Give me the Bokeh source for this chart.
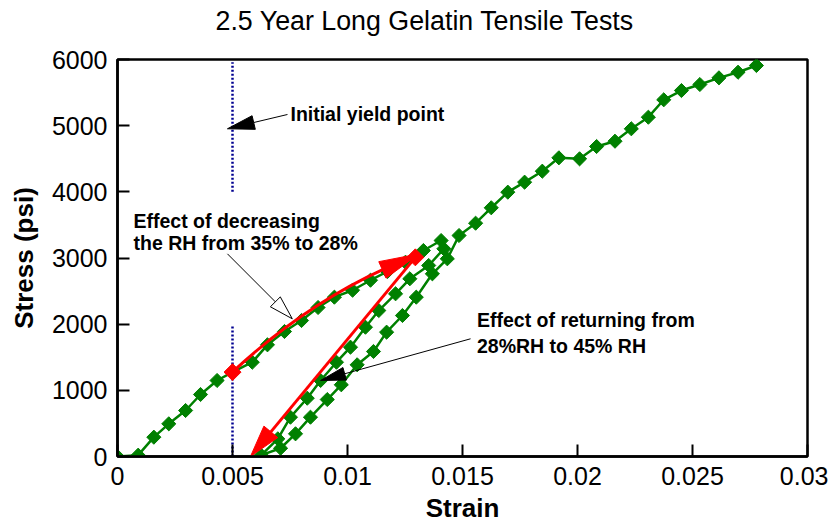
import numpy as np
from bokeh.plotting import figure
from bokeh.models import Range1d, FixedTicker, Label, Title
from bokeh.embed import file_html
from bokeh.resources import INLINE

# ---------------- data ----------------
strain = [0.0, 0.00090, 0.00158, 0.00223, 0.00296, 0.00361, 0.00433, 0.00500,
          0.00586, 0.00652, 0.00726, 0.00800, 0.00872, 0.00943, 0.01022, 0.01100,
          0.01174, 0.01252, 0.01330, 0.01407,
          0.01419, 0.01353, 0.01271, 0.01209, 0.01136, 0.01078, 0.01013, 0.00952,
          0.00883, 0.00825, 0.00752, 0.00697, 0.00625,
          0.00709, 0.00774, 0.00839, 0.00912, 0.00973, 0.01042, 0.01113, 0.01170,
          0.01239, 0.01299, 0.01369, 0.01434,
          0.01485, 0.01557, 0.01625, 0.01697, 0.01770, 0.01847, 0.01919, 0.02009,
          0.02083, 0.02163, 0.02234, 0.02308, 0.02375, 0.02452, 0.02532, 0.02615,
          0.02698, 0.02778]
stress = [0, 20, 292, 494, 695, 937, 1149, 1275,
          1425, 1688, 1889, 2055, 2252, 2408, 2513, 2664,
          2796, 2936, 3113, 3264,
          3139, 2887, 2686, 2459, 2206, 1954, 1652, 1425,
          1149, 881, 594, 267, 20,
          125, 343, 594, 861, 1084, 1386, 1587, 1879,
          2131, 2408, 2761, 2988,
          3340, 3526, 3759, 3995, 4146, 4312, 4514, 4499,
          4685, 4765, 4953, 5128, 5391, 5531, 5622, 5723,
          5808, 5909]

# red markers: start and end of the RH change
rh_strain = [0.0050, 0.01295]
rh_stress = [1275, 3010]

title_text = "2.5 Year Long Gelatin Tensile Tests"
x_label = "Strain"
y_label = "Stress (psi)"
x_ticks = [0, 0.005, 0.01, 0.015, 0.02, 0.025, 0.03]
x_tick_labels = ["0", "0.005", "0.01", "0.015", "0.02", "0.025", "0.03"]
y_ticks = [0, 1000, 2000, 3000, 4000, 5000, 6000]
y_tick_labels = ["0", "1000", "2000", "3000", "4000", "5000", "6000"]

yield_strain = 0.005
yield_low = [0, 1970]
yield_high = [4000, 5960]

note_yield = "Initial yield point"
note_dec = ["Effect of decreasing", "the RH from 35% to 28%"]
note_ret = ["Effect of returning from", "28%RH to 45% RH"]

# ---------------- figure ----------------
FONT = "Liberation Sans"
FW, FH = 690.0, 397.0
XMAX, YMAX = 0.03, 6000.0
SX, SY = FW / XMAX, FH / YMAX

p = figure(width=828, height=525, x_range=Range1d(0, XMAX), y_range=Range1d(0, YMAX),
           output_backend="svg", toolbar_location=None,
           min_border_left=117, min_border_right=21, min_border_top=59, min_border_bottom=69)
p.grid.visible = False
p.outline_line_color = "black"
p.outline_line_width = 2.5
p.outline_line_alpha = 1.0

for ax in (p.xaxis, p.yaxis):
    ax.axis_line_width = 2.5
    ax.axis_line_color = "black"
    ax.major_tick_in = 12
    ax.major_tick_out = 0
    ax.major_tick_line_width = 2
    ax.minor_tick_line_color = None
    ax.major_label_text_font = FONT
    ax.major_label_text_font_size = "25px"
    ax.major_label_text_color = "black"
    ax.axis_label_text_font = FONT
    ax.axis_label_text_font_size = "26px"
    ax.axis_label_text_font_style = "bold"
    ax.axis_label_text_color = "black"

p.xaxis.ticker = FixedTicker(ticks=x_ticks)
p.xaxis.major_label_overrides = {t: l for t, l in zip(x_ticks, x_tick_labels)}
p.xaxis.axis_label = x_label
p.xaxis.major_label_standoff = 10
p.xaxis.axis_label_standoff = 5

p.yaxis.ticker = FixedTicker(ticks=y_ticks)
p.yaxis.major_label_overrides = {t: l for t, l in zip(y_ticks, y_tick_labels)}
p.yaxis.axis_label = y_label
p.yaxis.major_label_standoff = 10
p.yaxis.axis_label_standoff = 10

# title: a spacer panel next to the frame, the title text above it
p.add_layout(Title(text=" ", text_font_size="10px", standoff=9), "above")
p.add_layout(Title(text=title_text, text_font=FONT, text_font_size="26.8px",
                   text_font_style="normal", align="left", offset=98,
                   vertical_align="top", standoff=0, text_color="black"), "above")

# ---------------- series ----------------
GREEN = "#008000"
RED = "#ff0000"
p.line(strain, stress, line_color=GREEN, line_width=2.5)
p.scatter(strain, stress, marker="square", size=10, angle=np.pi / 4,
          fill_color=GREEN, line_color=GREEN)

# yield point dotted line
p.segment(x0=[yield_strain, yield_strain], y0=[yield_low[0], yield_high[0]],
          x1=[yield_strain, yield_strain], y1=[yield_low[1], yield_high[1]],
          line_color="#000090", line_width=2.5, line_dash="2 2")


def head(tip, tail, length, width):
    tx, ty = tip[0] * SX, tip[1] * SY
    ux, uy = tail[0] * SX - tx, tail[1] * SY - ty
    n = np.hypot(ux, uy)
    ux, uy = ux / n, uy / n
    bx, by = tx + ux * length, ty + uy * length
    px, py = -uy * width / 2, ux * width / 2
    xs = [tx / SX, (bx + px) / SX, (bx - px) / SX]
    ys = [ty / SY, (by + py) / SY, (by - py) / SY]
    base = (bx / SX, by / SY)
    return xs, ys, base


# red curved arrow (RH decrease)
r1_start, r1_ctrl, r1_base, r1_tip = (0.00499, 1274), (0.00810, 2276), (0.01151, 2819), (0.01311, 3063)
p.quadratic(x0=[r1_start[0]], y0=[r1_start[1]], x1=[r1_base[0]], y1=[r1_base[1]],
            cx=[r1_ctrl[0]], cy=[r1_ctrl[1]], line_color=RED, line_width=3)
h1x, h1y, _ = head(r1_tip, r1_base, 40, 18)
# red straight arrow (RH return)
r2_start, r2_tip = (0.01295, 3010), (0.00578, 0)
h2x, h2y, r2_base = head(r2_tip, r2_start, 32, 18)
p.segment(x0=[r2_start[0]], y0=[r2_start[1]], x1=[r2_base[0]], y1=[r2_base[1]],
          line_color=RED, line_width=3)
p.patches([h1x, h2x], [h1y, h2y], fill_color=RED, line_color=RED, line_width=1)

p.scatter(rh_strain, rh_stress, marker="square", size=12, angle=np.pi / 4,
          fill_color=RED, line_color=RED)

# black annotation arrows
a_tail, a_tip = (0.00739, 5169), (0.00478, 4953)
b_tail, b_tip = (0.00478, 3063), (0.00760, 2081)
c_tail, c_tip = (0.01535, 1779), (0.00883, 1149)
ax_, ay_, a_base = head(a_tip, a_tail, 27, 14)
bx_, by_, b_base = head(b_tip, b_tail, 24, 14)
cx_, cy_, c_base = head(c_tip, c_tail, 25, 13)
p.segment(x0=[a_tail[0], b_tail[0], c_tail[0]], y0=[a_tail[1], b_tail[1], c_tail[1]],
          x1=[a_base[0], b_base[0], c_base[0]], y1=[a_base[1], b_base[1], c_base[1]],
          line_color="black", line_width=1)
p.patches([ax_, cx_], [ay_, cy_], fill_color="black", line_color="black", line_width=1)
p.patch(bx_, by_, fill_color="white", line_color="black", line_width=1)

# annotation texts
def note(x, y, t):
    p.add_layout(Label(x=x, y=y, text=t, text_font=FONT, text_font_size="19.5px",
                       text_font_style="bold", text_align="left",
                       text_baseline="alphabetic", text_color="black"))

note(0.00752, 5172, note_yield)
note(0.000696, 3564, note_dec[0])
note(0.000696, 3222, note_dec[1])
note(0.01563, 2059, note_ret[0])
note(0.01563, 1663, note_ret[1])

open("out.html", "w").write(file_html(p, INLINE))
